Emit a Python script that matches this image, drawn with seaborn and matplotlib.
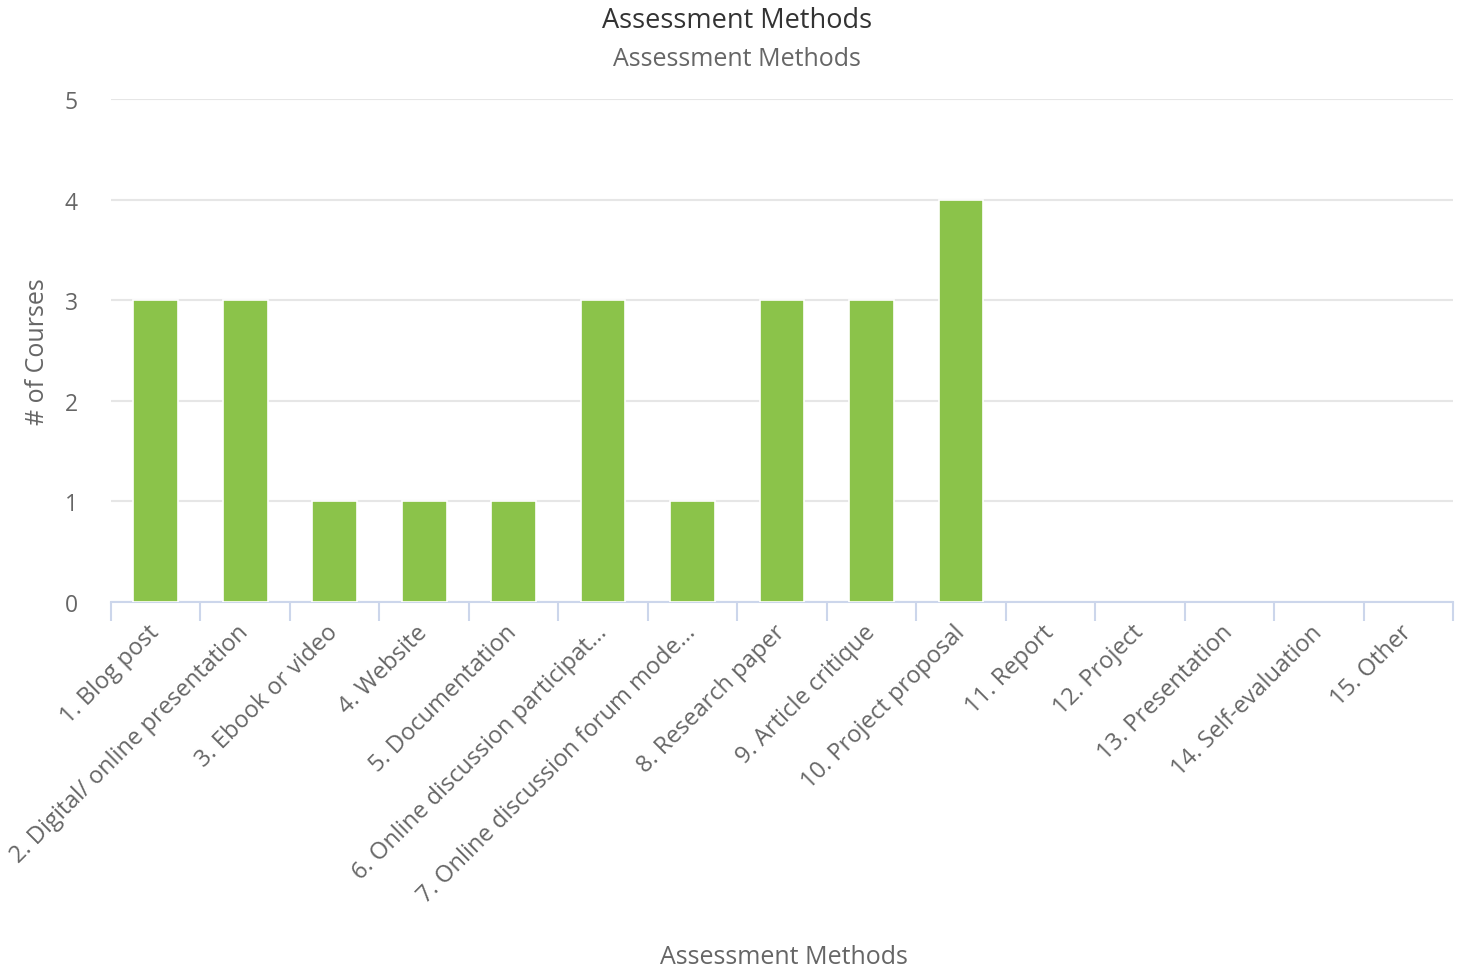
import matplotlib
matplotlib.use('Agg')
import matplotlib.pyplot as plt
import pandas as pd
import seaborn as sns

# data
methods = ['1. Blog post', '2. Digital/ online presentation', '3. Ebook or video',
           '4. Website', '5. Documentation', '6. Online discussion participat...',
           '7. Online discussion forum mode...', '8. Research paper',
           '9. Article critique', '10. Project proposal', '11. Report',
           '12. Project', '13. Presentation', '14. Self-evaluation', '15. Other']
courses = [3, 3, 1, 1, 1, 3, 1, 3, 3, 4, 0, 0, 0, 0, 0]
y_ticks = [0, 1, 2, 3, 4, 5]

df = pd.DataFrame({'method': methods, 'courses': courses})

sns.set_theme(style='white')
plt.rcParams['font.family'] = ['Open Sans', 'DejaVu Sans']

fig = plt.figure(figsize=(14.63, 9.70), dpi=100)
ax = fig.add_axes([111/1463, 1-603/970, (1453-111)/1463, (603-100)/970])

sns.barplot(data=df, x='method', y='courses', color='#8bc34a', saturation=1,
            width=0.5, edgecolor='white', linewidth=1.2, ax=ax, zorder=3)
# empty categories get no visible bar
for p in ax.patches:
    if p.get_height() == 0:
        p.set_linewidth(0)

ax.set_ylim(0, 5)
ax.set_xlim(-0.5, len(methods)-0.5)
ax.set_yticks(y_ticks)
ax.grid(axis='y', color='#e6e6e6', linewidth=1.5, zorder=0)
for s in ['top', 'right', 'left']:
    ax.spines[s].set_visible(False)
ax.spines['bottom'].set_color('#ccd6eb')
ax.spines['bottom'].set_linewidth(1.5)
ax.spines['bottom'].set_zorder(2)

ax.set_xticks(range(len(methods)))
ax.set_xticklabels(methods, rotation=45, ha='right', va='center',
                   rotation_mode='anchor', fontsize=17, color='#666666')
ax.tick_params(axis='x', which='major', bottom=False, length=0, pad=19)
ax.set_xticks([i - 0.5 for i in range(len(methods) + 1)], minor=True)
ax.tick_params(axis='x', which='minor', bottom=True, length=14, width=1.5,
               color='#ccd6eb')
ax.tick_params(axis='y', length=0, pad=24, labelsize=16.5, labelcolor='#666666')

ax.set_xlabel('Assessment Methods', fontsize=18, color='#666666')
ax.xaxis.set_label_coords(0.5015, -0.704)
ax.xaxis.label.set_va('center')
ax.set_ylabel('# of Courses', fontsize=18, color='#666666')
ax.yaxis.set_label_coords(-73/1342, 0.5)
ax.yaxis.label.set_va('center')

fig.text(0.504, 1-21/970, 'Assessment Methods', ha='center', va='center',
         fontsize=19.5, color='#333333')
fig.text(0.504, 1-60/970, 'Assessment Methods', ha='center', va='center',
         fontsize=18, color='#666666')

fig.savefig('out.png', dpi=100)
